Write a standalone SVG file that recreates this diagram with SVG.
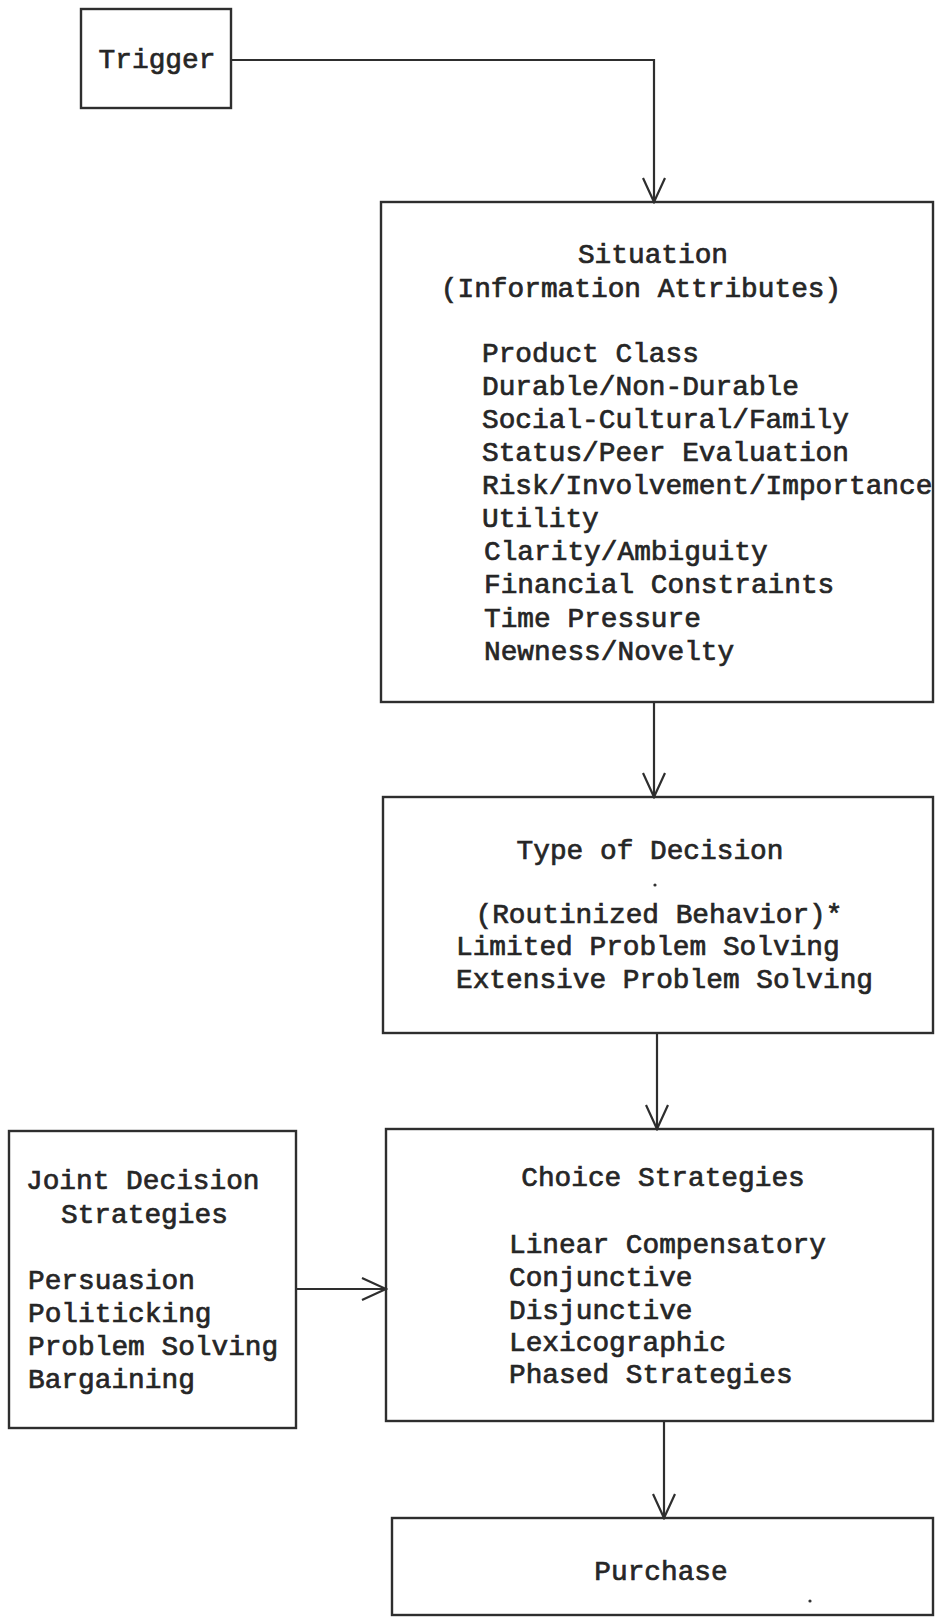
<svg xmlns="http://www.w3.org/2000/svg" width="935" height="1617" viewBox="0 0 935 1617">
<style>
.box{fill:none;stroke:#2e2e2e;stroke-width:2.4}
.t{font-family:"Liberation Mono","DejaVu Sans Mono",monospace;font-size:27.8px;fill:#262626;stroke:#262626;stroke-width:0.7}
.c{text-anchor:middle}
.ln{fill:none;stroke:#2e2e2e;stroke-width:2.2}
</style>
<defs>
<marker id="arr" viewBox="-27 -13 29 26" refX="0" refY="0" markerWidth="29" markerHeight="26" markerUnits="userSpaceOnUse" orient="auto">
<path d="M-24,-11 L0,0 L-24,11" fill="none" stroke="#2e2e2e" stroke-width="2.2"/>
</marker>
</defs>
<rect width="935" height="1617" fill="#ffffff"/>
<g id="connectors">
<path class="ln" d="M231,60 H654 V202" marker-end="url(#arr)"/>
<path class="ln" d="M654,702 V797" marker-end="url(#arr)"/>
<path class="ln" d="M657,1033 V1129" marker-end="url(#arr)"/>
<path class="ln" d="M296,1289 H386" marker-end="url(#arr)"/>
<path class="ln" d="M664,1422 V1518" marker-end="url(#arr)"/>
</g>
<g id="trigger">
<rect class="box" x="81" y="9" width="150" height="99"/>
<text class="t c" x="157" y="68">Trigger</text>
</g>
<g id="situation">
<rect class="box" x="381" y="202" width="552" height="500"/>
<text class="t c" x="653" y="263">Situation</text>
<text class="t c" x="641" y="297">(Information Attributes)</text>
<text class="t" x="482" y="362">Product Class</text>
<text class="t" x="482" y="395">Durable/Non-Durable</text>
<text class="t" x="482" y="428">Social-Cultural/Family</text>
<text class="t" x="482" y="461">Status/Peer Evaluation</text>
<text class="t" x="482" y="494">Risk/Involvement/Importance</text>
<text class="t" x="482" y="527">Utility</text>
<text class="t" x="484" y="560">Clarity/Ambiguity</text>
<text class="t" x="484" y="593">Financial Constraints</text>
<text class="t" x="484" y="627">Time Pressure</text>
<text class="t" x="484" y="660">Newness/Novelty</text>
</g>
<g id="type-of-decision">
<rect class="box" x="383" y="797" width="550" height="236"/>
<text class="t c" x="650" y="859">Type of Decision</text>
<circle cx="655" cy="885" r="1.6" fill="#333"/>
<text class="t c" x="659" y="923">(Routinized Behavior)*</text>
<text class="t" x="456" y="955">Limited Problem Solving</text>
<text class="t" x="456" y="988">Extensive Problem Solving</text>
</g>
<g id="choice-strategies">
<rect class="box" x="386" y="1129" width="547" height="292"/>
<text class="t c" x="663" y="1186">Choice Strategies</text>
<text class="t" x="509" y="1253">Linear Compensatory</text>
<text class="t" x="509" y="1286">Conjunctive</text>
<text class="t" x="509" y="1319">Disjunctive</text>
<text class="t" x="509" y="1351">Lexicographic</text>
<text class="t" x="509" y="1383">Phased Strategies</text>
</g>
<g id="joint-decision-strategies">
<rect class="box" x="9" y="1131" width="287" height="297"/>
<text class="t" x="26" y="1189">Joint Decision</text>
<text class="t" x="61" y="1223">Strategies</text>
<text class="t" x="28" y="1289">Persuasion</text>
<text class="t" x="28" y="1322">Politicking</text>
<text class="t" x="28" y="1355">Problem Solving</text>
<text class="t" x="28" y="1388">Bargaining</text>
</g>
<g id="purchase">
<rect class="box" x="392" y="1518" width="541" height="97"/>
<text class="t c" x="661" y="1580">Purchase</text>
<circle cx="810" cy="1601" r="1.6" fill="#333"/>
</g>
</svg>
